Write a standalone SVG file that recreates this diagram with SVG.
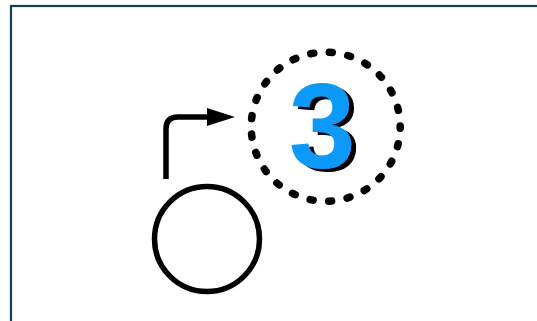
<svg xmlns="http://www.w3.org/2000/svg" width="537" height="321" viewBox="0 0 537 321">
  <style>
    .frame { fill: #ffffff; stroke: #143f55; stroke-width: 2.2; }
    .ink { fill: none; stroke: #000000; stroke-width: 5.5; }
    .dots { fill: none; stroke: #000000; stroke-width: 7.5; stroke-linecap: round; stroke-dasharray: 3 15.72; }
    .num { font-family: "Liberation Sans", Arial, sans-serif; font-weight: bold; font-size: 120px; text-anchor: middle; fill: #0a99f7; }
  </style>
  <defs>
    <marker id="head" markerWidth="28" markerHeight="18" refX="0" refY="9" orient="auto" markerUnits="userSpaceOnUse">
      <path d="M0,0 L28,9 L0,18 Z" fill="#000000"/>
    </marker>
    <filter id="shadow" x="-20%" y="-20%" width="140%" height="140%">
      <feOffset in="SourceAlpha" dx="5" dy="3" result="off"/>
      <feFlood flood-color="#000000"/>
      <feComposite operator="in" in2="off" result="sh"/>
      <feMerge>
        <feMergeNode in="sh"/>
        <feMergeNode in="SourceGraphic"/>
      </feMerge>
    </filter>
  </defs>
  <rect width="537" height="321" fill="#ffffff"/>
  <rect id="frame" class="frame" x="11" y="6" width="540" height="330"/>
  <g id="connectors">
    <path class="ink" d="M166,179 L166,129 Q166,117 178,117 L207,117" marker-end="url(#head)"/>
  </g>
  <g id="node-circle">
    <circle class="ink" cx="207" cy="239" r="52.5"/>
  </g>
  <g id="node-three">
    <circle class="dots" cx="325.7" cy="126.7" r="74.5" stroke-dashoffset="1.5"/>
    <text class="num" x="322" y="168" filter="url(#shadow)">3</text>
  </g>
</svg>
